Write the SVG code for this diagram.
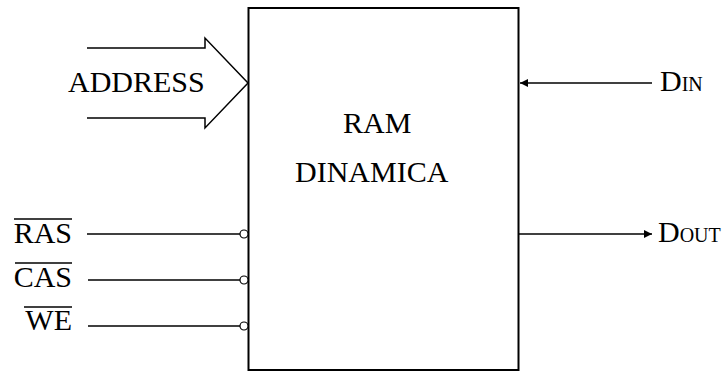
<svg xmlns="http://www.w3.org/2000/svg" width="727" height="371" viewBox="0 0 727 371">
<style>
  text { font-family: 'Liberation Serif', 'Times New Roman', 'DejaVu Serif', serif; font-size: 30px; fill: #000; }
  .sc { font-size: 20px; }
  .ln { stroke: #000; stroke-width: 1.5; fill: none; }
  .bub { stroke: #000; stroke-width: 1.2; fill: #fff; }
</style>
<defs>
  <marker id="ah" viewBox="0 0 10 10" refX="10" refY="5" markerWidth="9" markerHeight="8" markerUnits="userSpaceOnUse" orient="auto">
    <path d="M0,0 L10,5 L0,10 Z" fill="#000"/>
  </marker>
</defs>
<rect width="727" height="371" fill="#fff"/>
<g id="ram" font-family="Liberation Serif, serif">
  <rect x="248.5" y="8" width="270" height="362" fill="#fff" stroke="#000" stroke-width="2"/>
  <text x="343" y="133">RAM</text>
  <text x="295" y="182">DINAMICA</text>
</g>
<g id="address" font-family="Liberation Serif, serif">
  <text x="68" y="92">ADDRESS</text>
</g>
<g id="ras" font-family="Liberation Serif, serif"><text x="72" y="243" text-anchor="end">RAS</text><line class="ln" x1="14" y1="219" x2="72" y2="219"/></g>
<g id="cas" font-family="Liberation Serif, serif"><text x="72" y="287" text-anchor="end">CAS</text><line class="ln" x1="15" y1="263" x2="72" y2="263"/></g>
<g id="we" font-family="Liberation Serif, serif"><text x="72" y="330" text-anchor="end">WE</text><line class="ln" x1="24" y1="307" x2="72" y2="307"/></g>
<g id="din" font-family="Liberation Serif, serif"><text x="660" y="91">D<tspan class="sc">IN</tspan></text></g>
<g id="dout" font-family="Liberation Serif, serif"><text x="658" y="242">D<tspan class="sc">OUT</tspan></text></g>
<g id="connectors">
  <path class="ln" d="M87,48 H205 V38 L248,83 L205,128 V118 H87" stroke-width="1.3"/>
  <line class="ln" x1="87" y1="234" x2="240" y2="234"/>
  <circle class="bub" cx="244" cy="234" r="4"/>
  <line class="ln" x1="88" y1="280" x2="240" y2="280"/>
  <circle class="bub" cx="244" cy="280" r="4"/>
  <line class="ln" x1="88" y1="326" x2="240" y2="326"/>
  <circle class="bub" cx="244" cy="326" r="4"/>
  <line class="ln" x1="652" y1="83" x2="520" y2="83" marker-end="url(#ah)"/>
  <line class="ln" x1="519" y1="234" x2="652" y2="234" marker-end="url(#ah)"/>
</g>
</svg>
